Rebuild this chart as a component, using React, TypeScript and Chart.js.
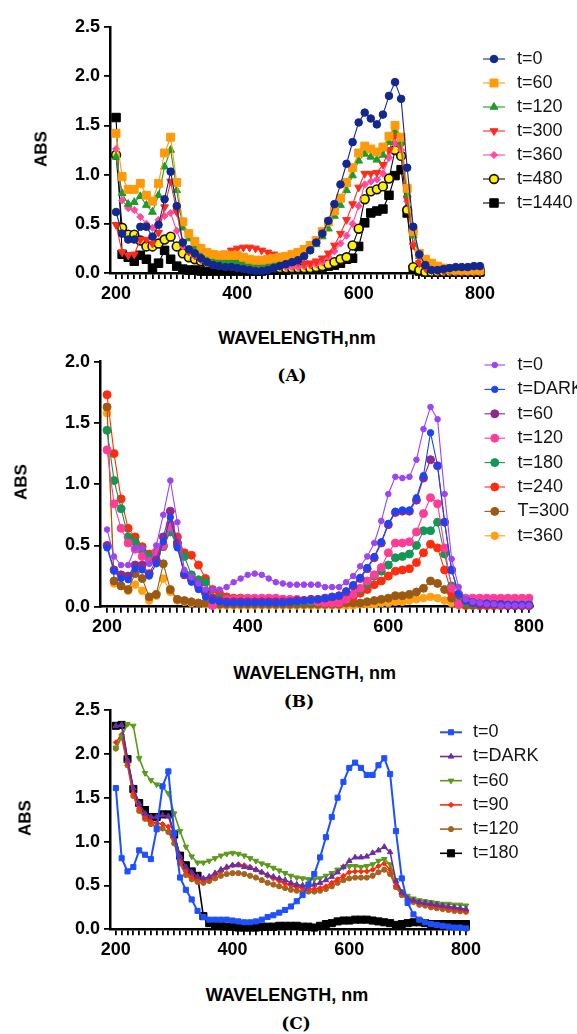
import React, { useEffect, useRef } from 'react';
import { Chart, registerables } from 'chart.js';
import { drawPoint } from 'chart.js/helpers';

Chart.register(...registerables);

// ---------- categories ----------
const WAVELENGTHS: number[] = [];
for (let w = 200; w <= 800; w += 10) WAVELENGTHS.push(w);
const X_TICKS: number[] = [];
for (let w = 200; w <= 800; w += 10) X_TICKS.push(w);

// ---------- Panel A ----------
const A_LABELS = ['t=0', 't=60', 't=120', 't=300', 't=360', 't=480', 't=1440'];
const A_T0 = [
  0.62, 0.40, 0.34, 0.34, 0.47, 0.47, 0.37, 0.49, 0.75, 1.03,
  0.68, 0.31, 0.24, 0.20, 0.15, 0.11, 0.08, 0.07, 0.06, 0.06,
  0.05, 0.04, 0.03, 0.02, 0.02, 0.03, 0.05, 0.07, 0.09, 0.11,
  0.13, 0.17, 0.23, 0.31, 0.40, 0.53, 0.70, 0.90, 1.11, 1.33,
  1.53, 1.63, 1.57, 1.51, 1.61, 1.80, 1.94, 1.77, 1.07, 0.47,
  0.19, 0.08, 0.03, 0.03, 0.04, 0.05, 0.06, 0.06, 0.06, 0.07,
  0.07];
const A_T60 = [
  1.42, 0.98, 0.85, 0.85, 0.91, 0.79, 0.73, 0.91, 1.22, 1.38,
  0.92, 0.52, 0.40, 0.32, 0.25, 0.21, 0.19, 0.18, 0.18, 0.18,
  0.18, 0.16, 0.14, 0.13, 0.13, 0.14, 0.15, 0.16, 0.17, 0.19,
  0.21, 0.24, 0.28, 0.33, 0.42, 0.52, 0.63, 0.76, 0.92, 1.07,
  1.22, 1.29, 1.26, 1.23, 1.28, 1.39, 1.50, 1.38, 0.86, 0.42,
  0.20, 0.14, 0.10, 0.07, 0.05, 0.04, 0.03, 0.03, 0.03, 0.03,
  0.03];
const A_T120 = [
  1.18, 0.81, 0.70, 0.72, 0.78, 0.69, 0.62, 0.79, 1.08, 1.25,
  0.84, 0.46, 0.35, 0.26, 0.20, 0.16, 0.14, 0.13, 0.13, 0.12,
  0.12, 0.11, 0.10, 0.09, 0.09, 0.10, 0.11, 0.12, 0.13, 0.15,
  0.17, 0.20, 0.23, 0.29, 0.37, 0.45, 0.58, 0.69, 0.84, 0.99,
  1.14, 1.21, 1.18, 1.15, 1.20, 1.33, 1.45, 1.33, 0.80, 0.38,
  0.17, 0.10, 0.06, 0.04, 0.03, 0.02, 0.02, 0.02, 0.02, 0.02,
  0.02];
const A_T300 = [
  0.49, 0.21, 0.18, 0.19, 0.34, 0.34, 0.30, 0.41, 0.67, 0.93,
  0.62, 0.30, 0.22, 0.18, 0.15, 0.14, 0.15, 0.17, 0.20, 0.23,
  0.25, 0.26, 0.26, 0.25, 0.23, 0.21, 0.19, 0.17, 0.15, 0.13,
  0.11, 0.10, 0.10, 0.12, 0.15, 0.20, 0.28, 0.40, 0.54, 0.70,
  0.87, 1.01, 1.01, 1.02, 1.10, 1.25, 1.40, 1.30, 0.75, 0.28,
  0.10, 0.05, 0.03, 0.02, 0.02, 0.02, 0.02, 0.02, 0.02, 0.02,
  0.02];
const A_T360 = [
  1.26, 0.74, 0.66, 0.64, 0.57, 0.50, 0.46, 0.54, 0.58, 0.61,
  0.43, 0.27, 0.21, 0.17, 0.13, 0.10, 0.09, 0.08, 0.08, 0.08,
  0.08, 0.07, 0.07, 0.06, 0.06, 0.06, 0.06, 0.06, 0.06, 0.06,
  0.06, 0.07, 0.08, 0.09, 0.11, 0.16, 0.22, 0.30, 0.38, 0.50,
  0.68, 0.90, 0.93, 0.95, 1.01, 1.17, 1.32, 1.25, 0.73, 0.29,
  0.12, 0.06, 0.04, 0.03, 0.02, 0.02, 0.02, 0.02, 0.02, 0.02,
  0.02];
const A_T480 = [
  1.20, 0.46, 0.39, 0.39, 0.33, 0.27, 0.27, 0.30, 0.34, 0.37,
  0.27, 0.20, 0.16, 0.14, 0.12, 0.10, 0.09, 0.09, 0.09, 0.09,
  0.08, 0.07, 0.06, 0.05, 0.05, 0.05, 0.05, 0.05, 0.05, 0.05,
  0.05, 0.05, 0.05, 0.06, 0.07, 0.09, 0.11, 0.14, 0.16, 0.28,
  0.45, 0.75, 0.83, 0.85, 0.88, 0.96, 1.25, 1.19, 0.64, 0.06,
  0.03, 0.01, 0.01, 0.01, 0.01, 0.01, 0.01, 0.01, 0.01, 0.01,
  0.01];
const A_T1440 = [
  1.58, 0.19, 0.16, 0.12, 0.18, 0.14, 0.05, 0.10, 0.23, 0.14,
  0.07, 0.04, 0.03, 0.03, 0.02, 0.02, 0.02, 0.02, 0.02, 0.02,
  0.02, 0.02, 0.02, 0.02, 0.02, 0.03, 0.03, 0.03, 0.03, 0.04,
  0.04, 0.04, 0.05, 0.05, 0.06, 0.07, 0.08, 0.10, 0.14, 0.15,
  0.27, 0.51, 0.61, 0.63, 0.65, 0.79, 0.99, 1.05, 0.61, 0.04,
  0.02, 0.01, 0.01, 0.01, 0.01, 0.01, 0.01, 0.01, 0.01, 0.01,
  0.01];

// ---------- Panel B ----------
const B_LABELS = ['t=0', 't=DARK', 't=60', 't=120', 't=180', 't=240', 'T=300', 't=360'];
const B_T0 = [
  0.63, 0.41, 0.34, 0.34, 0.48, 0.48, 0.35, 0.50, 0.75, 1.03,
  0.69, 0.30, 0.24, 0.19, 0.14, 0.14, 0.14, 0.16, 0.20, 0.23,
  0.26, 0.27, 0.26, 0.23, 0.20, 0.19, 0.18, 0.18, 0.18, 0.18,
  0.18, 0.16, 0.16, 0.16, 0.20, 0.25, 0.33, 0.41, 0.52, 0.70,
  0.92, 1.06, 1.05, 1.06, 1.20, 1.45, 1.63, 1.53, 0.92, 0.39,
  0.16, 0.06, 0.04, 0.03, 0.02, 0.02, 0.01, 0.01, 0.01, 0.01,
  0.01];
const B_DARK = [
  0.48, 0.29, 0.23, 0.22, 0.31, 0.30, 0.25, 0.35, 0.53, 0.73,
  0.48, 0.27, 0.20, 0.14, 0.08, 0.05, 0.04, 0.03, 0.03, 0.03,
  0.03, 0.03, 0.03, 0.03, 0.03, 0.03, 0.04, 0.04, 0.05, 0.05,
  0.06, 0.07, 0.08, 0.09, 0.13, 0.18, 0.24, 0.32, 0.41, 0.53,
  0.68, 0.78, 0.79, 0.79, 0.89, 1.07, 1.42, 1.15, 0.69, 0.30,
  0.11, 0.05, 0.04, 0.03, 0.03, 0.02, 0.02, 0.02, 0.02, 0.02,
  0.02];
const B_T60 = [
  0.50, 0.30, 0.26, 0.25, 0.34, 0.34, 0.27, 0.38, 0.57, 0.78,
  0.52, 0.26, 0.22, 0.18, 0.12, 0.07, 0.05, 0.04, 0.04, 0.04,
  0.04, 0.04, 0.04, 0.04, 0.04, 0.04, 0.04, 0.05, 0.05, 0.06,
  0.06, 0.07, 0.08, 0.09, 0.12, 0.17, 0.23, 0.31, 0.40, 0.52,
  0.67, 0.77, 0.78, 0.78, 0.87, 1.05, 1.20, 1.15, 0.69, 0.30,
  0.10, 0.05, 0.03, 0.02, 0.02, 0.02, 0.02, 0.01, 0.01, 0.01,
  0.01];
const B_T120 = [
  1.28, 0.84, 0.64, 0.52, 0.47, 0.41, 0.37, 0.45, 0.50, 0.65,
  0.52, 0.27, 0.23, 0.16, 0.11, 0.01, 0.05, 0.06, 0.06, 0.06,
  0.07, 0.07, 0.07, 0.07, 0.07, 0.06, 0.06, 0.06, 0.05, 0.05,
  0.04, 0.03, 0.03, 0.03, 0.06, 0.10, 0.15, 0.21, 0.26, 0.32,
  0.44, 0.52, 0.52, 0.53, 0.61, 0.76, 0.89, 0.84, 0.48, 0.15,
  0.02, 0.07, 0.07, 0.07, 0.07, 0.07, 0.07, 0.07, 0.07, 0.07,
  0.07];
const B_T180 = [
  1.44, 1.03, 0.80, 0.57, 0.53, 0.46, 0.41, 0.43, 0.49, 0.61,
  0.50, 0.41, 0.26, 0.22, 0.20, 0.07, 0.07, 0.06, 0.05, 0.05,
  0.05, 0.05, 0.05, 0.05, 0.05, 0.04, 0.04, 0.04, 0.04, 0.04,
  0.04, 0.04, 0.04, 0.04, 0.07, 0.10, 0.14, 0.19, 0.25, 0.29,
  0.34, 0.40, 0.41, 0.43, 0.50, 0.62, 0.62, 0.69, 0.43, 0.17,
  0.04, 0.03, 0.02, 0.02, 0.02, 0.02, 0.02, 0.02, 0.02, 0.02,
  0.02];
const B_T240 = [
  1.73, 1.25, 0.88, 0.64, 0.57, 0.49, 0.43, 0.44, 0.50, 0.67,
  0.57, 0.44, 0.42, 0.34, 0.23, 0.14, 0.11, 0.08, 0.07, 0.07,
  0.06, 0.06, 0.06, 0.06, 0.06, 0.06, 0.05, 0.05, 0.05, 0.05,
  0.05, 0.05, 0.05, 0.05, 0.06, 0.08, 0.11, 0.14, 0.18, 0.21,
  0.25, 0.29, 0.30, 0.31, 0.36, 0.44, 0.51, 0.48, 0.30, 0.11,
  0.03, 0.02, 0.02, 0.01, 0.01, 0.01, 0.01, 0.01, 0.01, 0.01,
  0.01];
const B_T300 = [
  1.63, 0.21, 0.17, 0.14, 0.27, 0.23, 0.08, 0.10, 0.35, 0.14,
  0.06, 0.05, 0.04, 0.03, 0.03, 0.02, 0.02, 0.02, 0.02, 0.02,
  0.02, 0.02, 0.02, 0.02, 0.02, 0.02, 0.02, 0.02, 0.02, 0.02,
  0.02, 0.02, 0.02, 0.02, 0.03, 0.03, 0.03, 0.04, 0.05, 0.06,
  0.07, 0.09, 0.09, 0.10, 0.12, 0.15, 0.21, 0.19, 0.14, 0.07,
  0.02, 0.01, 0.01, 0.01, 0.01, 0.01, 0.01, 0.01, 0.01, 0.01,
  0.01];
const B_T360 = [
  1.58, 0.19, 0.17, 0.13, 0.18, 0.13, 0.05, 0.09, 0.23, 0.12,
  0.05, 0.04, 0.03, 0.03, 0.02, 0.01, 0.01, 0.01, 0.01, 0.01,
  0.01, 0.01, 0.01, 0.01, 0.01, 0.01, 0.01, 0.01, 0.01, 0.01,
  0.01, 0.01, 0.01, 0.01, 0.01, 0.01, 0.02, 0.02, 0.02, 0.03,
  0.03, 0.04, 0.04, 0.05, 0.06, 0.07, 0.08, 0.07, 0.05, 0.03,
  0.01, 0.01, 0.01, 0.01, 0.01, 0.01, 0.01, 0.01, 0.01, 0.01,
  0.01];

// ---------- Panel C ----------
const C_LABELS = ['t=0', 't=DARK', 't=60', 't=90', 't=120', 't=180'];
const C_T0 = [
  1.61, 0.81, 0.66, 0.71, 0.90, 0.85, 0.80, 1.14, 1.63, 1.80,
  1.10, 0.59, 0.45, 0.34, 0.21, 0.14, 0.11, 0.11, 0.11, 0.11,
  0.10, 0.09, 0.08, 0.08, 0.09, 0.11, 0.14, 0.16, 0.19, 0.22,
  0.26, 0.32, 0.39, 0.51, 0.63, 0.82, 1.05, 1.28, 1.50, 1.68,
  1.84, 1.90, 1.84, 1.76, 1.76, 1.87, 1.95, 1.77, 1.12, 0.58,
  0.30, 0.17, 0.11, 0.08, 0.06, 0.05, 0.04, 0.03, 0.02, 0.02,
  0.01];
const C_DARK = [
  2.32, 2.33, 1.93, 1.61, 1.43, 1.32, 1.28, 1.28, 1.30, 1.29,
  1.08, 0.83, 0.71, 0.65, 0.60, 0.58, 0.60, 0.64, 0.68, 0.71,
  0.73, 0.73, 0.71, 0.70, 0.68, 0.65, 0.62, 0.60, 0.58, 0.56,
  0.53, 0.51, 0.50, 0.50, 0.51, 0.53, 0.56, 0.60, 0.65, 0.71,
  0.78, 0.82, 0.82, 0.83, 0.87, 0.90, 0.94, 0.88, 0.55, 0.42,
  0.35, 0.33, 0.31, 0.30, 0.29, 0.28, 0.27, 0.26, 0.25, 0.24,
  0.23];
const C_T60 = [
  2.07, 2.20, 2.34, 2.32, 1.95, 1.78, 1.70, 1.65, 1.62, 1.55,
  1.32, 1.12, 0.94, 0.83, 0.76, 0.76, 0.78, 0.81, 0.84, 0.86,
  0.87, 0.86, 0.84, 0.81, 0.78, 0.75, 0.73, 0.70, 0.67, 0.64,
  0.61, 0.59, 0.58, 0.57, 0.57, 0.58, 0.61, 0.64, 0.68, 0.71,
  0.72, 0.72, 0.71, 0.72, 0.74, 0.78, 0.80, 0.74, 0.56, 0.43,
  0.38, 0.35, 0.33, 0.32, 0.31, 0.30, 0.29, 0.29, 0.28, 0.28,
  0.27];
const C_T90 = [
  2.13, 2.22, 1.90, 1.55, 1.38, 1.28, 1.23, 1.21, 1.20, 1.17,
  1.02, 0.78, 0.66, 0.60, 0.57, 0.56, 0.58, 0.62, 0.66, 0.70,
  0.73, 0.74, 0.73, 0.71, 0.68, 0.65, 0.61, 0.58, 0.55, 0.52,
  0.50, 0.48, 0.47, 0.46, 0.46, 0.47, 0.49, 0.53, 0.57, 0.61,
  0.65, 0.66, 0.66, 0.66, 0.68, 0.72, 0.75, 0.68, 0.50, 0.41,
  0.36, 0.33, 0.30, 0.29, 0.27, 0.26, 0.25, 0.24, 0.23, 0.22,
  0.21];
const C_T120 = [
  2.06, 2.19, 1.87, 1.52, 1.35, 1.26, 1.20, 1.17, 1.15, 1.11,
  0.98, 0.75, 0.62, 0.57, 0.54, 0.53, 0.55, 0.58, 0.61, 0.63,
  0.64, 0.64, 0.63, 0.61, 0.59, 0.56, 0.53, 0.51, 0.49, 0.47,
  0.45, 0.44, 0.43, 0.43, 0.43, 0.44, 0.46, 0.49, 0.53, 0.56,
  0.58, 0.59, 0.59, 0.59, 0.61, 0.65, 0.68, 0.63, 0.48, 0.39,
  0.34, 0.31, 0.28, 0.27, 0.25, 0.24, 0.23, 0.22, 0.21, 0.205,
  0.20];
const C_T180 = [
  2.32, 2.33, 1.94, 1.60, 1.44, 1.36, 1.28, 1.28, 1.31, 1.31,
  1.08, 0.84, 0.73, 0.66, 0.61, 0.15, 0.07, 0.05, 0.04, 0.03,
  0.03, 0.02, 0.02, 0.02, 0.02, 0.03, 0.03, 0.03, 0.04, 0.04,
  0.04, 0.04, 0.03, 0.03, 0.02, 0.04, 0.06, 0.07, 0.09, 0.10,
  0.10, 0.11, 0.11, 0.11, 0.10, 0.09, 0.08, 0.07, 0.05, 0.06,
  0.07, 0.08, 0.08, 0.07, 0.06, 0.06, 0.06, 0.06, 0.06, 0.06,
  0.06];

// ---------- styling ----------
const SANS = "'Liberation Sans', Arial, Helvetica, sans-serif";
const SERIF = "'DejaVu Serif', 'Liberation Serif', serif";

type Sty = { color: string; fill?: string; edge?: string; style: string; rot?: number; r: number; bw?: number; lw: number };

function mk(label: string, vals: number[], s: Sty) {
  return {
    label,
    data: WAVELENGTHS.map((w, i) => ({ x: w, y: vals[i] })),
    borderColor: s.color,
    borderWidth: s.lw,
    backgroundColor: s.fill ?? s.color,
    pointBackgroundColor: s.fill ?? s.color,
    pointBorderColor: s.edge ?? s.color,
    pointBorderWidth: s.bw ?? 1,
    pointStyle: s.style,
    pointRotation: s.rot ?? 0,
    pointRadius: s.r,
    pointHoverRadius: s.r,
    tension: 0,
    clip: false as const,
  };
}

const A_STY: Sty[] = [
  { color: '#13288f', style: 'circle', r: 3.8, lw: 1.1 },
  { color: '#ff9a0a', style: 'rect', r: 5.6, lw: 1.1 },
  { color: '#1f9a2c', style: 'triangle', r: 4.5, lw: 1.1 },
  { color: '#ff2b1c', style: 'triangle', rot: 180, r: 4.5, lw: 1.1 },
  { color: '#ff4aa0', style: 'rectRot', r: 3.6, lw: 1.1 },
  { color: '#111111', fill: '#fff200', edge: '#111111', bw: 1.6, style: 'circle', r: 4.4, lw: 1.1 },
  { color: '#000000', style: 'rect', r: 6, lw: 1.1 },
];
const A_VALS = [A_T0, A_T60, A_T120, A_T300, A_T360, A_T480, A_T1440];

const B_STY: Sty[] = [
  { color: '#9b45f2', style: 'circle', r: 2.8, lw: 1.1 },
  { color: '#1a45f5', style: 'circle', r: 3.2, lw: 1.1 },
  { color: '#8e2a8e', style: 'circle', r: 4, lw: 1.1 },
  { color: '#ff3d96', style: 'circle', r: 4, lw: 1.1 },
  { color: '#149657', style: 'circle', r: 4, lw: 1.1 },
  { color: '#ff2d0d', style: 'circle', r: 4, lw: 1.1 },
  { color: '#9a5a14', style: 'circle', r: 4, lw: 1.1 },
  { color: '#ffa012', style: 'circle', r: 3.8, lw: 1.1 },
];
const B_VALS = [B_T0, B_DARK, B_T60, B_T120, B_T180, B_T240, B_T300, B_T360];

const C_STY: Sty[] = [
  { color: '#1f50ff', style: 'rect', r: 3.6, lw: 2 },
  { color: '#6a2fa3', style: 'triangle', r: 3.2, lw: 1.6 },
  { color: '#5c9a1a', style: 'triangle', rot: 180, r: 3.2, lw: 1.6 },
  { color: '#ff2a0a', style: 'rectRot', r: 2.6, lw: 1.6 },
  { color: '#a3641d', style: 'circle', r: 2.6, lw: 1.6 },
  { color: '#000000', style: 'rect', r: 5, lw: 1.6 },
];
const C_VALS = [C_T0, C_DARK, C_T60, C_T90, C_T120, C_T180];

// ---------- legend plugin ----------
const legendPlugin = {
  id: 'lineLegend',
  afterDraw(chart: any, _args: any, opts: any) {
    const { ctx } = chart;
    chart.data.datasets.forEach((ds: any, i: number) => {
      const y = opts.y0 + opts.step * i;
      ctx.save();
      ctx.strokeStyle = ds.borderColor;
      ctx.lineWidth = ds.borderWidth;
      ctx.beginPath();
      ctx.moveTo(opts.x1, y);
      ctx.lineTo(opts.x2, y);
      ctx.stroke();
      ctx.fillStyle = ds.pointBackgroundColor;
      ctx.strokeStyle = ds.pointBorderColor;
      ctx.lineWidth = ds.pointBorderWidth;
      drawPoint(ctx, {
        pointStyle: ds.pointStyle,
        rotation: ds.pointRotation || 0,
        radius: ds.pointRadius,
        borderWidth: ds.pointBorderWidth,
      } as any, (opts.x1 + opts.x2) / 2, y);
      ctx.fillStyle = '#151515';
      ctx.font = `18px ${SANS}`;
      ctx.textBaseline = 'middle';
      ctx.textAlign = 'left';
      ctx.fillText(ds.label, opts.textX, y);
      ctx.restore();
    });
  },
};

type PanelProps = {
  top: number; height: number; labels: string[]; vals: number[][]; sty: Sty[];
  left: number; right: number; areaTop: number; areaBottom: number;
  xMin: number; xMax: number; yMax: number;
  legend: { x1: number; x2: number; textX: number; y0: number; step: number };
};

function Panel(p: PanelProps) {
  const ref = useRef<HTMLCanvasElement>(null);
  useEffect(() => {
    const tickFont = { family: SANS, size: 18, weight: 'bold' as const };
    const chart = new Chart(ref.current!, {
      type: 'line',
      data: { datasets: p.labels.map((l, i) => mk(l, p.vals[i], p.sty[i])) as any },
      options: {
        responsive: false,
        animation: false,
        devicePixelRatio: 1,
        events: [],
        layout: { padding: { left: 0, top: p.areaTop, right: 577 - p.right, bottom: 0 } },
        plugins: { legend: { display: false }, tooltip: { enabled: false }, lineLegend: p.legend } as any,
        scales: {
          x: {
            type: 'linear',
            min: p.xMin,
            max: p.xMax,
            afterFit: (s: any) => { s.height = p.height - p.areaBottom; },
            afterBuildTicks: (s: any) => { s.ticks = X_TICKS.map((v) => ({ value: v })); },
            border: { display: true, color: '#000', width: 2.5 },
            grid: { display: true, drawOnChartArea: false, drawTicks: true, tickLength: 6, color: '#000', lineWidth: 1.8 },
            ticks: {
              autoSkip: false, maxRotation: 0, minRotation: 0, padding: 4, color: '#000', font: tickFont,
              callback: (v: any) => (Number(v) % 200 === 0 ? String(v) : ''),
            },
          },
          y: {
            type: 'linear',
            min: 0,
            max: p.yMax,
            afterFit: (s: any) => { s.width = p.left; },
            border: { display: true, color: '#000', width: 2.5 },
            grid: { display: true, drawOnChartArea: false, drawTicks: true, tickLength: 6, color: '#000', lineWidth: 1.8 },
            ticks: {
              stepSize: 0.5, padding: 4, color: '#000', font: tickFont,
              callback: (v: any) => Number(v).toFixed(1),
            },
          },
        },
      } as any,
      plugins: [legendPlugin],
    });
    return () => chart.destroy();
  }, []);
  return (
    <canvas
      ref={ref}
      width={577}
      height={p.height}
      style={{ position: 'absolute', left: 0, top: p.top, width: 577, height: p.height }}
    />
  );
}

function Txt(props: { x: number; y: number; text: string; size: number; bold?: boolean; rotate?: boolean; serif?: boolean }) {
  return (
    <div
      style={{
        position: 'absolute',
        left: props.x,
        top: props.y,
        transform: `translate(-50%, -50%)${props.rotate ? ' rotate(-90deg)' : ''}`,
        whiteSpace: 'nowrap',
        fontFamily: props.serif ? SERIF : SANS,
        fontSize: props.size,
        fontWeight: props.bold ? 'bold' : 'normal',
        color: '#000',
        lineHeight: 1,
      }}
    >
      {props.text}
    </div>
  );
}

export default function App() {
  return (
    <div style={{ position: 'absolute', left: 0, top: 0, width: 577, height: 1034, background: '#fff', overflow: 'hidden' }}>
      <Panel
        top={0} height={320} labels={A_LABELS} vals={A_VALS} sty={A_STY}
        left={110} right={483.6} areaTop={27} areaBottom={273}
        xMin={190} xMax={806} yMax={2.5}
        legend={{ x1: 483, x2: 505, textX: 517, y0: 59, step: 24 }}
      />
      <Txt x={40.5} y={149} text="ABS" size={17} bold rotate />
      <Txt x={297} y={338} text="WAVELENGTH,nm" size={18} bold />
      <Txt x={292} y={375} text="(A)" size={17} bold serif />

      <Panel
        top={340} height={300} labels={B_LABELS} vals={B_VALS} sty={B_STY}
        left={100} right={532.5} areaTop={21.7} areaBottom={266.7}
        xMin={190} xMax={805} yMax={2.0}
        legend={{ x1: 484.5, x2: 505, textX: 517.5, y0: 25, step: 24.4 }}
      />
      <Txt x={21} y={482} text="ABS" size={17} bold rotate />
      <Txt x={314.7} y={673} text="WAVELENGTH, nm" size={18} bold />
      <Txt x={299} y={700.5} text="(B)" size={17} bold serif />

      <Panel
        top={690} height={280} labels={C_LABELS} vals={C_VALS} sty={C_STY}
        left={110} right={468.9} areaTop={20} areaBottom={239.3}
        xMin={190} xMax={805} yMax={2.5}
        legend={{ x1: 440, x2: 462, textX: 473, y0: 42.3, step: 24.2 }}
      />
      <Txt x={25.4} y={818} text="ABS" size={17} bold rotate />
      <Txt x={287} y={995} text="WAVELENGTH, nm" size={18} bold />
      <Txt x={296} y={1023} text="(C)" size={17} bold serif />
    </div>
  );
}
